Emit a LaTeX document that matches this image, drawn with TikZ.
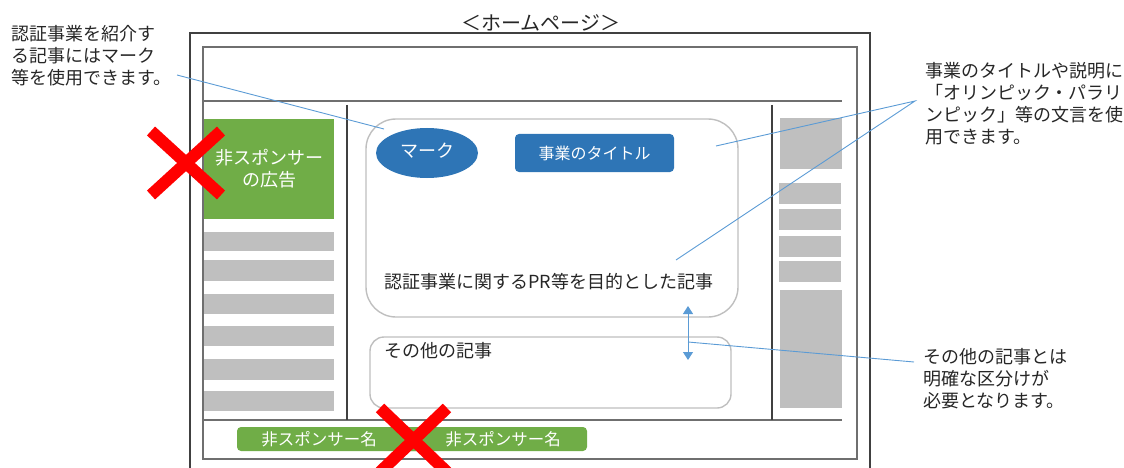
\documentclass[tikz,border=0pt]{standalone}
\usepackage{fontspec}
\setmainfont{Noto Sans CJK JP}
\usetikzlibrary{arrows.meta,shapes.geometric}
\definecolor{cline}{HTML}{5B9BD5}
\definecolor{gbar}{HTML}{BFBFBF}
\definecolor{grn}{HTML}{70AD47}
\definecolor{blu}{HTML}{2E75B6}
\definecolor{frm}{HTML}{404040}
\definecolor{frm2}{HTML}{6F6F6F}
\definecolor{txt}{HTML}{262626}
\begin{document}
\begin{tikzpicture}[x=1pt,y=-1pt,
  txtnode/.style={font=\fontsize{18pt}{22pt}\selectfont, text=txt, inner sep=0pt, align=left},
  whitetxt/.style={font=\fontsize{18pt}{22pt}\selectfont, text=white, align=center, inner sep=0pt},
  graybar/.style={fill=gbar},
  greenbox/.style={fill=grn, draw=none, inner sep=0pt},
  artbox/.style={draw=gbar, line width=1.4pt, inner sep=0pt},
  callout/.style={draw=cline, line width=0.9pt},
  redx/.style={draw=red, line width=12pt},
  outerline/.style={draw=frm, line width=1.3pt},
  innerline/.style={draw=frm2, line width=2pt},
  colline/.style={draw=frm, line width=1.4pt}]
\useasboundingbox (0,0) rectangle (1124,468);
\clip (0,0) rectangle (1124,468);

% frames
\draw[outerline] (190,470) -- (190,33) -- (870,33) -- (870,470);
\draw[innerline] (203,47) rectangle (857,459);
\draw[innerline] (203,101) -- (842,101);
\draw[innerline] (203,420) -- (842,420);
\draw[colline] (347,105) -- (347,420);
\draw[colline] (772,105) -- (772,420);

% title
\node[font=\fontsize{20pt}{22pt}\selectfont, text=txt, inner sep=0pt] (title) at (541,23) {＜ホームページ＞};

% left column
\node[greenbox, minimum width=130pt, minimum height=100pt] (ad) at (269,169) {};
\node[whitetxt] (adtxt) at (269,169) {非スポンサー\\の広告};
\foreach \a/\b in {232/251,260/281,294/314,326/346,359/380,391/411}
  \fill[graybar] (204,\a) rectangle (334,\b);

% right column
\fill[graybar] (780,118) rectangle (842,169);
\foreach \a/\b in {183/204,209/230,236/257,261/282}
  \fill[graybar] (779,\a) rectangle (841,\b);
\fill[graybar] (780,290) rectangle (842,408);

% articles
\node[artbox, rounded corners=30pt, minimum width=372pt, minimum height=198pt] (main) at (552,218) {};
\node[artbox, rounded corners=14pt, minimum width=361pt, minimum height=71pt] (other) at (550.5,372.5) {};
\node[ellipse, fill=blu, minimum width=102pt, minimum height=50pt, inner sep=0pt] (mark) at (427,153) {};
\node[whitetxt] at (427,151) {マーク};
\node[fill=blu, rounded corners=4pt, minimum width=159pt, minimum height=38pt, inner sep=0pt] (ttl) at (594.5,153) {};
\node[whitetxt, font=\fontsize{16pt}{20pt}\selectfont] at (594.5,153) {事業のタイトル};
\node[txtnode] (maintxt) at (549,282) {認証事業に関するPR等を目的とした記事};
\node[txtnode, anchor=west] (othertxt) at (384,351) {その他の記事};

% footer
\node[greenbox, rounded corners=4pt, minimum width=183pt, minimum height=24pt] (fa) at (328.5,439) {};
\node[greenbox, rounded corners=4pt, minimum width=183pt, minimum height=24pt] (fb) at (495.5,439) {};
\node[whitetxt, font=\fontsize{16.5pt}{20pt}\selectfont] at (319,439) {非スポンサー名};
\node[whitetxt, font=\fontsize{16.5pt}{20pt}\selectfont] at (503,439) {非スポンサー名};

% red crosses
\draw[redx] (151,131) -- (221,195);
\draw[redx] (151,195) -- (221,131);
\draw[redx] (380,408) -- (447,472);
\draw[redx] (380,472) -- (447,408);

% callout texts
\node[txtnode, anchor=north west] (t1) at (11,25) {認証事業を紹介す\\る記事にはマーク\\等を使用できます。};
\node[txtnode, anchor=north west] (t2) at (925,62) {事業のタイトルや説明に\\「オリンピック・パラリ\\ンピック」等の文言を使\\用できます。};
\node[txtnode, anchor=north west] (t3) at (923,348) {その他の記事とは\\明確な区分けが\\必要となります。};

% callout lines
\coordinate (c1a) at (177,75);
\coordinate (c1b) at (384,129);
\draw[callout] (c1a) -- (c1b);
\coordinate (c2) at (915,101);
\coordinate (c2a) at (716,146);
\coordinate (c2b) at (676,260);
\draw[callout] (c2a) -- (c2) -- (c2b);
\coordinate (arrtop) at (688,306);
\coordinate (arrbot) at (688,360);
\draw[cline, line width=1pt, {Triangle[width=10pt,length=8pt]}-{Triangle[width=10pt,length=8pt]}] (arrtop) -- (arrbot);
\coordinate (c3a) at (688,342);
\coordinate (c3b) at (914,362);
\draw[callout] (c3a) -- (c3b);
\end{tikzpicture}
\end{document}
